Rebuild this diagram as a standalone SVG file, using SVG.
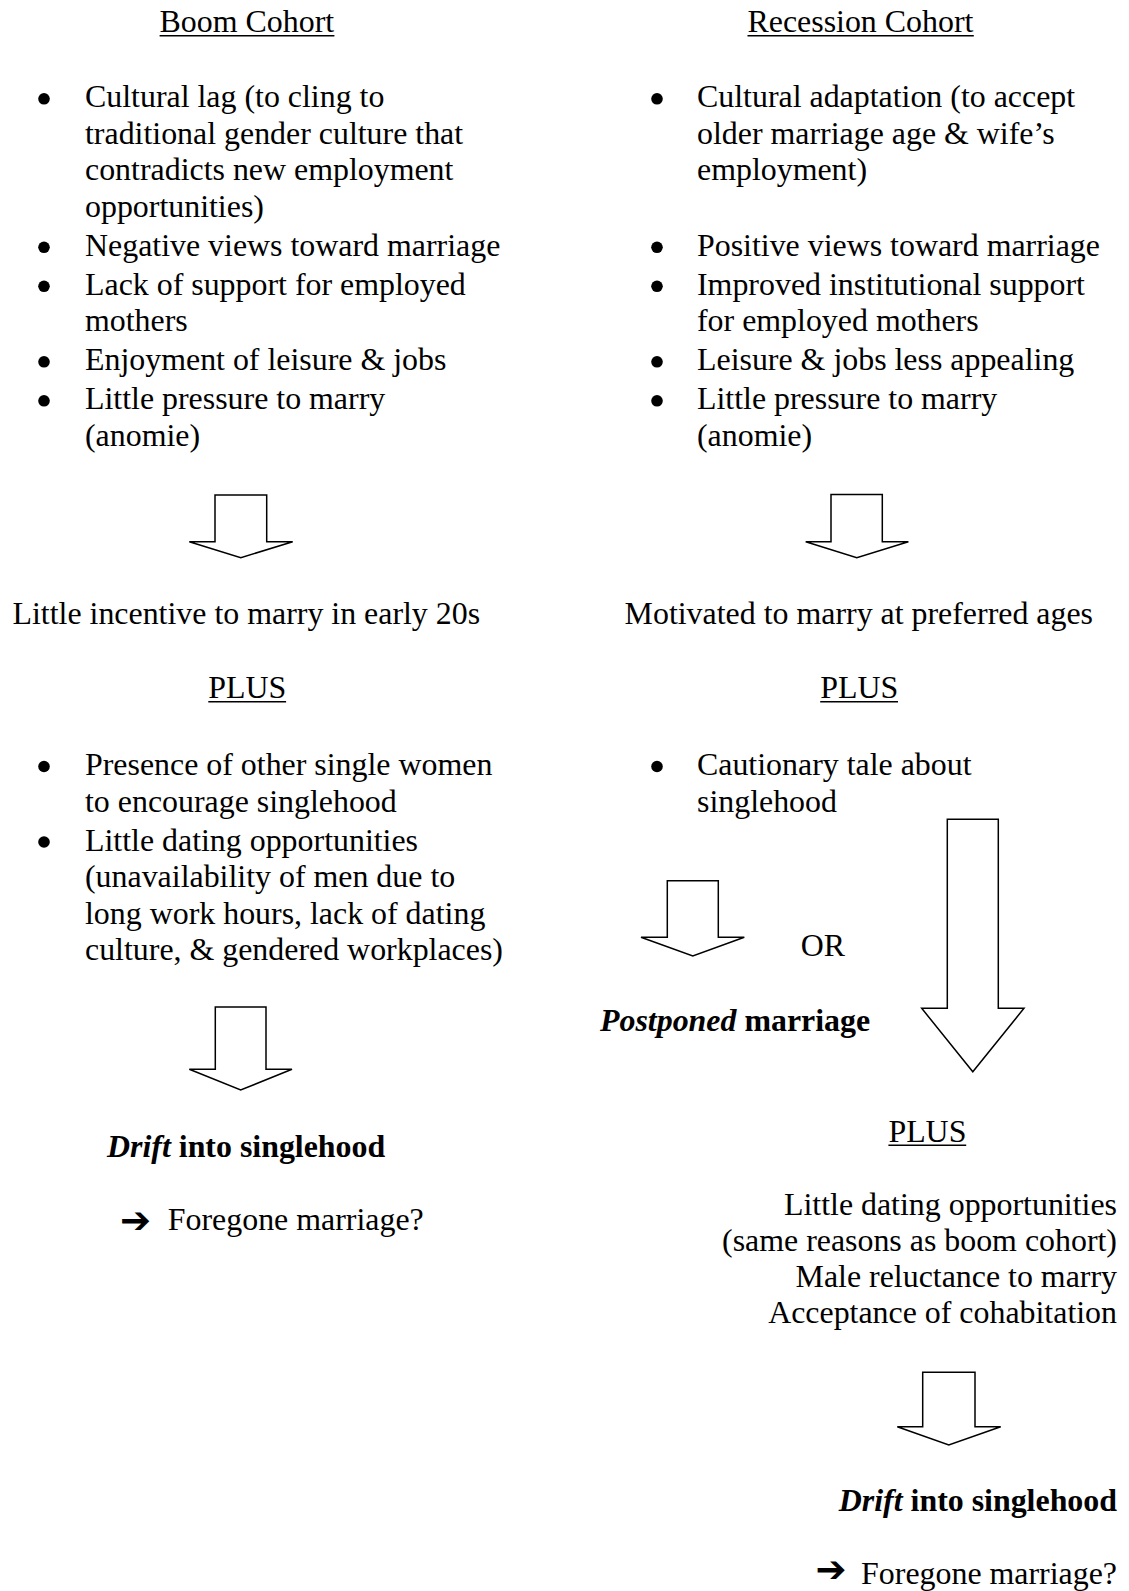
<svg xmlns="http://www.w3.org/2000/svg" width="1129" height="1591" viewBox="0 0 1129 1591">
<style>
  .t { font-family: "Liberation Serif", "Times New Roman", serif; font-size: 31.9px; fill: #000; }
  .b { font-weight: bold; }
  .bi { font-weight: bold; font-style: italic; }
  .ul { stroke: #000; stroke-width: 1.6; fill: none; }
  .dot { fill: #000; }
  .arrow { fill: #fff; stroke: #000; stroke-width: 1.5; stroke-linejoin: miter; }
  .sym { font-family: "DejaVu Sans", sans-serif; font-size: 37px; font-weight: bold; fill: #000; }
</style>
<rect x="0" y="0" width="1129" height="1591" fill="#fff"/>

<g id="boom-title">
  <text class="t" x="159.6" y="32">Boom Cohort</text>
  <line class="ul" x1="159.6" y1="35.8" x2="334.4" y2="35.8"/>
</g>
<g id="recession-title">
  <text class="t" x="747.5" y="32">Recession Cohort</text>
  <line class="ul" x1="747.5" y1="35.8" x2="973.8" y2="35.8"/>
</g>

<g id="boom-factors">
  <circle class="dot" cx="44" cy="98.8" r="5.8"/>
  <text class="t" x="85" y="107.3">Cultural lag (to cling to</text>
  <text class="t" x="85" y="143.8">traditional gender culture that</text>
  <text class="t" x="85" y="180.3">contradicts new employment</text>
  <text class="t" x="85" y="216.8">opportunities)</text>
  <circle class="dot" cx="44" cy="247.3" r="5.8"/>
  <text class="t" x="85" y="255.8">Negative views toward marriage</text>
  <circle class="dot" cx="44" cy="286.3" r="5.8"/>
  <text class="t" x="85" y="294.8">Lack of support for employed</text>
  <text class="t" x="85" y="331.3">mothers</text>
  <circle class="dot" cx="44" cy="361.8" r="5.8"/>
  <text class="t" x="85" y="370.3">Enjoyment of leisure &amp; jobs</text>
  <circle class="dot" cx="44" cy="400.8" r="5.8"/>
  <text class="t" x="85" y="409.3">Little pressure to marry</text>
  <text class="t" x="85" y="445.8">(anomie)</text>
</g>

<g id="recession-factors">
  <circle class="dot" cx="657" cy="98.8" r="5.8"/>
  <text class="t" x="697" y="107.3">Cultural adaptation (to accept</text>
  <text class="t" x="697" y="143.8">older marriage age &amp; wife’s</text>
  <text class="t" x="697" y="180.3">employment)</text>
  <circle class="dot" cx="657" cy="247.3" r="5.8"/>
  <text class="t" x="697" y="255.8">Positive views toward marriage</text>
  <circle class="dot" cx="657" cy="286.3" r="5.8"/>
  <text class="t" x="697" y="294.8">Improved institutional support</text>
  <text class="t" x="697" y="331.3">for employed mothers</text>
  <circle class="dot" cx="657" cy="361.8" r="5.8"/>
  <text class="t" x="697" y="370.3">Leisure &amp; jobs less appealing</text>
  <circle class="dot" cx="657" cy="400.8" r="5.8"/>
  <text class="t" x="697" y="409.3">Little pressure to marry</text>
  <text class="t" x="697" y="445.8">(anomie)</text>
</g>

<g id="boom-incentive">
  <text class="t" x="12.5" y="624">Little incentive to marry in early 20s</text>
</g>
<g id="recession-motivated">
  <text class="t" x="624.6" y="624">Motivated to marry at preferred ages</text>
</g>

<g id="boom-plus">
  <text class="t" x="208.3" y="698">PLUS</text>
  <line class="ul" x1="208.3" y1="701.8" x2="286.1" y2="701.8"/>
</g>
<g id="recession-plus">
  <text class="t" x="820.2" y="698">PLUS</text>
  <line class="ul" x1="820.2" y1="701.8" x2="898" y2="701.8"/>
</g>

<g id="boom-plus-factors">
  <circle class="dot" cx="44" cy="766.5" r="5.8"/>
  <text class="t" x="85" y="775">Presence of other single women</text>
  <text class="t" x="85" y="811.5">to encourage singlehood</text>
  <circle class="dot" cx="44" cy="842" r="5.8"/>
  <text class="t" x="85" y="850.5">Little dating opportunities</text>
  <text class="t" x="85" y="887">(unavailability of men due to</text>
  <text class="t" x="85" y="923.5">long work hours, lack of dating</text>
  <text class="t" x="85" y="960">culture, &amp; gendered workplaces)</text>
</g>

<g id="recession-cautionary">
  <circle class="dot" cx="657" cy="766.5" r="5.8"/>
  <text class="t" x="697" y="775">Cautionary tale about</text>
  <text class="t" x="697" y="811.5">singlehood</text>
</g>

<g id="or-label">
  <text class="t" x="800.7" y="956">OR</text>
</g>

<g id="postponed">
  <text class="t b" x="600" y="1031"><tspan class="bi">Postponed</tspan> marriage</text>
</g>

<g id="boom-drift">
  <text class="t b" x="107" y="1156.5"><tspan class="bi">Drift</tspan> into singlehood</text>
</g>
<g id="boom-foregone">
  <text class="sym" x="120" y="1233">➔</text>
  <text class="t" x="167.8" y="1230">Foregone marriage?</text>
</g>

<g id="recession-plus2">
  <text class="t" x="888.4" y="1141.5">PLUS</text>
  <line class="ul" x1="888.4" y1="1145.3" x2="966.2" y2="1145.3"/>
</g>

<g id="recession-plus2-factors">
  <text class="t" x="1117" y="1214.5" text-anchor="end">Little dating opportunities</text>
  <text class="t" x="1117" y="1250.8" text-anchor="end">(same reasons as boom cohort)</text>
  <text class="t" x="1117" y="1287.1" text-anchor="end">Male reluctance to marry</text>
  <text class="t" x="1117" y="1323.4" text-anchor="end">Acceptance of cohabitation</text>
</g>

<g id="recession-drift">
  <text class="t b" x="1117" y="1511" text-anchor="end"><tspan class="bi">Drift</tspan> into singlehood</text>
</g>
<g id="recession-foregone">
  <text class="sym" x="815.5" y="1582">➔</text>
  <text class="t" x="1117" y="1584" text-anchor="end">Foregone marriage?</text>
</g>

<g id="connectors">
  <polygon class="arrow" points="215,495 266.7,495 266.7,541.7 292.7,541.7 240.8,557.7 189.3,541.7 215,541.7"/>
  <polygon class="arrow" points="831,494.5 882.3,494.5 882.3,541.7 908.4,541.7 856.8,557.7 805.7,541.7 831,541.7"/>
  <polygon class="arrow" points="215.3,1007 266,1007 266,1069.3 292,1069.3 240.7,1090 189.3,1069.3 215.3,1069.3"/>
  <polygon class="arrow" points="667.3,880.7 718.3,880.7 718.3,937.3 744.3,937.3 692.8,956 641,937.3 667.3,937.3"/>
  <polygon class="arrow" points="947.3,819.3 998.3,819.3 998.3,1008.3 1024,1008.3 972.8,1071.7 921.7,1008.3 947.3,1008.3"/>
  <polygon class="arrow" points="922.7,1372.3 975,1372.3 975,1426.7 1000.7,1426.7 948.8,1445 897.3,1426.7 922.7,1426.7"/>
</g>
</svg>
